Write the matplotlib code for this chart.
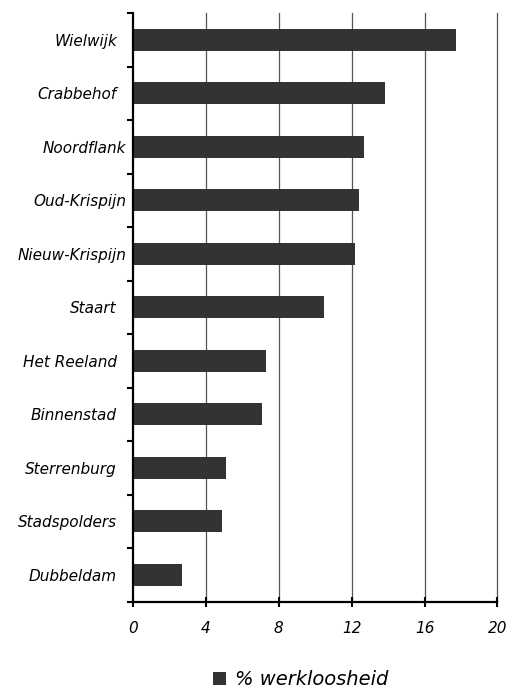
import matplotlib
matplotlib.use("Agg")
import matplotlib.pyplot as plt
import matplotlib.transforms as mtransforms
from matplotlib.patches import Patch
import numpy as np

categories = ["Wielwijk", "Crabbehof", "Noordflank", "Oud-Krispijn", "Nieuw-Krispijn",
              "Staart", "Het Reeland", "Binnenstad", "Sterrenburg", "Stadspolders", "Dubbeldam"]
values = [17.7, 13.8, 12.7, 12.4, 12.2, 10.5, 7.3, 7.1, 5.1, 4.9, 2.7]
x_ticks = [0, 4, 8, 12, 16, 20]
series_name = "% werkloosheid"
wide_labels = ["Noordflank", "Oud-Krispijn", "Nieuw-Krispijn"]

plt.rcParams['font.family'] = ['DejaVu Sans']

fig = plt.figure(figsize=(5.09, 6.90), dpi=100)
ax = fig.add_axes([133/509, 1 - 601.5/690, (497.5-133)/509, (601.5-13)/690])

bar_color = "#333333"
ypos = np.arange(len(categories))
ax.barh(ypos, values, height=0.41, color=bar_color, zorder=3)

ax.set_xlim(0, 20)
ax.set_ylim(len(categories) - 0.5, -0.5)

ax.set_xticks(x_ticks)
ax.set_xticklabels([str(t) for t in x_ticks], fontsize=11, fontstyle='italic')
ax.tick_params(axis='x', which='major', direction='inout', length=7, width=1.5,
               pad=10.5, color='black')

ax.set_yticks(ypos)
ax.set_yticklabels(categories, fontsize=11, fontstyle='italic')
ax.set_yticks(np.arange(-0.5, len(categories), 1.0), minor=True)
ax.tick_params(axis='y', which='major', length=0, pad=11.5)
ax.tick_params(axis='y', which='minor', direction='out', length=4.5, width=1.5, color='black')

offset = mtransforms.ScaledTranslation(9/100, 0, fig.dpi_scale_trans)
for lbl in ax.get_yticklabels():
    if lbl.get_text() in wide_labels:
        lbl.set_transform(lbl.get_transform() + offset)

for t in x_ticks[1:]:
    ax.axvline(t, color='#555555', linewidth=0.9, zorder=1, clip_on=False)

for s in ['top', 'right']:
    ax.spines[s].set_visible(False)
for s in ['left', 'bottom']:
    ax.spines[s].set_linewidth(1.6)
    ax.spines[s].set_color('black')
    ax.spines[s].set_zorder(4)

handle = Patch(facecolor=bar_color, edgecolor='none', label=series_name)
fig.legend(handles=[handle], loc='center left', bbox_to_anchor=(213/509, 1 - 679.5/690),
           frameon=False, prop={'size': 14, 'style': 'italic'},
           handlelength=0.68, handleheight=0.65, handletextpad=0.45, borderpad=0,
           borderaxespad=0)

fig.savefig("out.png", dpi=100)
